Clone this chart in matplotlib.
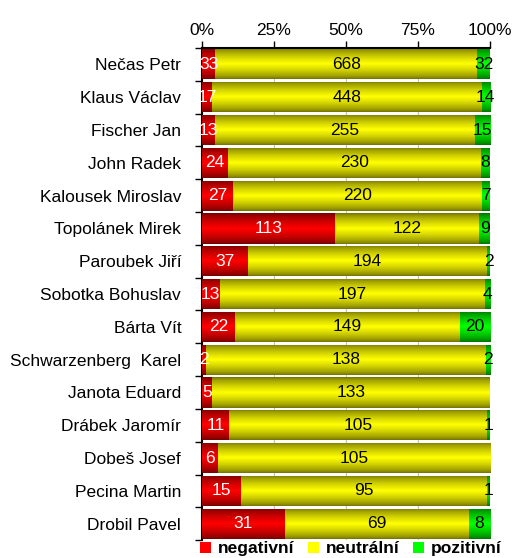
import numpy as np
import matplotlib.pyplot as plt
from matplotlib.colors import LinearSegmentedColormap
from matplotlib.patches import Patch

plt.rcParams['font.family'] = ['Liberation Sans', 'DejaVu Sans']

names = ['Nečas Petr', 'Klaus Václav', 'Fischer Jan', 'John Radek', 'Kalousek Miroslav',
         'Topolánek Mirek', 'Paroubek Jiří', 'Sobotka Bohuslav', 'Bárta Vít',
         'Schwarzenberg  Karel', 'Janota Eduard', 'Drábek Jaromír', 'Dobeš Josef',
         'Pecina Martin', 'Drobil Pavel']
negativni = [33, 17, 13, 24, 27, 113, 37, 13, 22, 2, 5, 11, 6, 15, 31]
neutralni = [668, 448, 255, 230, 220, 122, 194, 197, 149, 138, 133, 105, 105, 95, 69]
pozitivni = [32, 14, 15, 8, 7, 9, 2, 4, 20, 2, 0, 1, 0, 1, 8]

series = [('negativní', negativni, '#ff0000', '#700000', 'white'),
          ('neutrální', neutralni, '#ffff00', '#707000', 'black'),
          ('pozitivní', pozitivni, '#00ff00', '#007000', 'black')]

neg = np.array(negativni, float)
neu = np.array(neutralni, float)
poz = np.array(pozitivni, float)
total = neg + neu + poz

fig = plt.figure(figsize=(5.16, 5.58), dpi=100)
ax = fig.add_axes([0.3915, 0.032, 0.558, 0.882])

y = np.arange(len(names))
grad = np.concatenate([np.linspace(0, 1, 50), np.linspace(1, 0, 50)]) ** 0.7
grad = grad.reshape(-1, 1)

left = np.zeros(len(names))
for label, vals, bright, dark, tcol in series:
    vals = np.array(vals, float)
    share = vals / total * 100
    bars = ax.barh(y, share, left=left, height=0.92, color=bright, zorder=2)
    cmap = LinearSegmentedColormap.from_list(label, [dark, bright])
    for b, v, s, l in zip(bars, vals, share, left):
        if s <= 0:
            continue
        x0, y0 = b.get_x(), b.get_y()
        im = ax.imshow(grad, extent=[x0, x0 + b.get_width(), y0, y0 + b.get_height()],
                       aspect='auto', cmap=cmap, zorder=3, interpolation='bilinear')
        im.set_clip_path(b)
        ax.text(l + s / 2, b.get_y() + b.get_height() / 2, '%d' % v, ha='center',
                va='center', color=tcol, fontsize=12.5, zorder=4)
    left = left + share

ax.set_xlim(0, 100)
ax.set_ylim(len(names) - 0.5, -0.5)
ax.set_xticks([0, 25, 50, 75, 100])
ax.set_xticklabels(['0%', '25%', '50%', '75%', '100%'], fontsize=12.5)
ax.xaxis.tick_top()
ax.tick_params(axis='x', length=5, width=1, pad=2)
ax.set_yticks(y)
ax.set_yticklabels(names, fontsize=12.5)
ax.set_yticks(np.arange(len(names) + 1) - 0.5, minor=True)
ax.tick_params(axis='y', which='major', length=0, pad=15)
ax.tick_params(axis='y', which='minor', length=5, width=1)
ax.grid(axis='x', color='#c0c0c0', lw=0.8, zorder=0)
ax.set_axisbelow(True)
for side in ['right', 'bottom']:
    ax.spines[side].set_visible(False)
ax.spines['left'].set_linewidth(1.5)
ax.spines['top'].set_linewidth(1.5)

handles = [Patch(facecolor=s[2], label=s[0]) for s in series]
leg = fig.legend(handles=handles, loc='lower center', bbox_to_anchor=(0.68, -0.025), ncol=3,
                 frameon=False, handlelength=0.6, handleheight=0.6,
                 handletextpad=0.4, columnspacing=0.8, prop={'weight': 'bold', 'size': 12.5})

fig.savefig('out.png', dpi=100)
